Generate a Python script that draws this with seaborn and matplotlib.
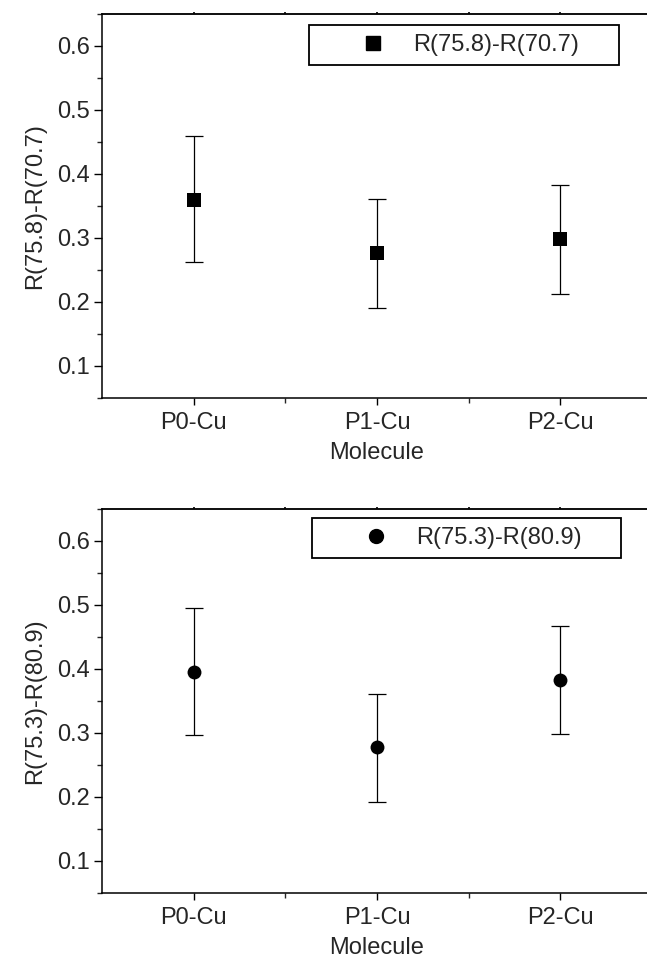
import matplotlib
matplotlib.use("Agg")
import matplotlib.pyplot as plt
from matplotlib.ticker import MultipleLocator
from matplotlib.lines import Line2D
import seaborn as sns
import pandas as pd

molecules = ["P0-Cu", "P1-Cu", "P2-Cu"]

top_label = "R(75.8)-R(70.7)"
top_values = [0.360, 0.276, 0.298]
top_upper = [0.460, 0.361, 0.383]
top_lower = [0.262, 0.191, 0.213]

bot_label = "R(75.3)-R(80.9)"
bot_values = [0.395, 0.278, 0.383]
bot_upper = [0.495, 0.361, 0.467]
bot_lower = [0.297, 0.192, 0.298]

sns.set_theme(style="ticks")
plt.rcParams["font.family"] = ["Liberation Sans", "DejaVu Sans"]
FS = 17

fig = plt.figure(figsize=(6.47, 9.59), dpi=100)
ax_top = fig.add_axes([102/647, 1 - 398/959, 550/647, 384/959])
ax_bot = fig.add_axes([102/647, 1 - 892.7/959, 550/647, 383.7/959])


def panel(ax, values, upper, lower, label, marker, msize_pt, leg_bbox):
    df = pd.DataFrame({"Molecule": molecules, "value": values})
    yerr = [[v - lo for v, lo in zip(values, lower)],
            [hi - v for v, hi in zip(values, upper)]]
    ax.errorbar(molecules, values, yerr=yerr, fmt="none", ecolor="black",
                elinewidth=0.9, capsize=6.3, capthick=0.9, zorder=2)
    sns.scatterplot(data=df, x="Molecule", y="value", marker=marker,
                    s=msize_pt ** 2, color="black", edgecolor="black",
                    linewidth=0, ax=ax, zorder=3, legend=False)
    ax.set_xlim(-0.5, 2.5)
    ax.set_ylim(0.05, 0.65)
    ax.yaxis.set_major_locator(MultipleLocator(0.1))
    ax.yaxis.set_minor_locator(MultipleLocator(0.05))
    ax.set_xticks([0, 1, 2])
    ax.set_xticks([0.5, 1.5], minor=True)
    ax.set_xticklabels(molecules)
    for s in ax.spines.values():
        s.set_linewidth(1.1)
        s.set_color("black")
    ax.tick_params(axis="both", which="major", labelsize=FS, color="black",
                   width=1.0, direction="out")
    ax.tick_params(axis="y", which="major", length=5.5, pad=3)
    ax.tick_params(axis="y", which="minor", length=3.5, width=1.0, left=True)
    ax.tick_params(axis="x", which="major", length=5.0, pad=5)
    ax.tick_params(axis="x", which="minor", length=3.5, width=1.0, bottom=True)
    ax.tick_params(axis="x", which="both", top=False)
    sec = ax.secondary_xaxis("top")
    sec.set_xticks([0, 1, 2])
    sec.set_xticks([0.5, 1.5], minor=True)
    sec.tick_params(axis="x", which="both", length=1.5, width=1.2,
                    direction="out", labeltop=False, color="black")
    sec.spines["top"].set_linewidth(1.1)
    ax.set_ylabel(label, fontsize=FS, labelpad=8)
    ax.set_xlabel("Molecule", fontsize=FS, labelpad=6)
    handle = Line2D([], [], linestyle="none", marker=marker, color="black",
                    markersize=msize_pt)
    leg = ax.legend([handle], [label], loc="upper left", bbox_to_anchor=leg_bbox,
                    mode="expand", borderaxespad=0, fontsize=FS, frameon=True,
                    fancybox=False, edgecolor="black", borderpad=0.38,
                    handlelength=4.66, handletextpad=-0.64, numpoints=1)
    leg.get_frame().set_linewidth(1.3)
    leg.get_frame().set_alpha(1)


panel(ax_top, top_values, top_upper, top_lower, top_label, "s", 9.4,
      (0.3764, 0.0, 0.5636, 0.9714))
panel(ax_bot, bot_values, bot_upper, bot_lower, bot_label, "o", 10.0,
      (0.382, 0.0, 0.562, 0.9766))

fig.savefig("out.png", dpi=100)
